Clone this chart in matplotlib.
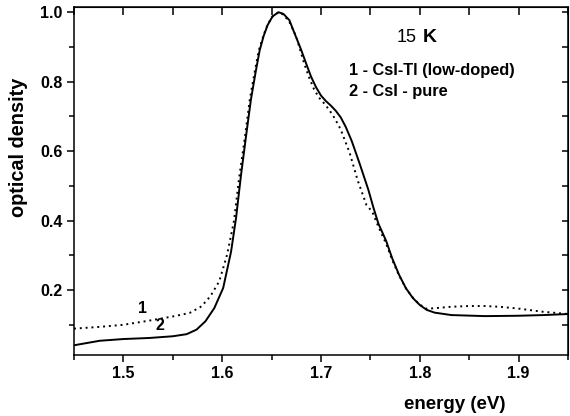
import numpy as np
from matplotlib import pyplot as plt
from matplotlib.ticker import MultipleLocator

plt.rcParams['font.family'] = ['Liberation Sans', 'DejaVu Sans']

# curve 2: CsI - pure (solid)
pureE = [1.450, 1.462, 1.476, 1.500, 1.526, 1.550, 1.564, 1.574, 1.583, 1.592,
         1.601, 1.609, 1.614, 1.619, 1.624, 1.629, 1.634, 1.638, 1.642, 1.646,
         1.651, 1.657, 1.662, 1.668, 1.672, 1.680, 1.685, 1.690, 1.695, 1.700,
         1.705, 1.710, 1.715, 1.720, 1.725, 1.731, 1.739, 1.748, 1.753, 1.758,
         1.766, 1.772, 1.779, 1.786, 1.793, 1.800, 1.807, 1.815, 1.832, 1.866,
         1.899, 1.925, 1.950]
pureOD = [0.041, 0.047, 0.054, 0.059, 0.062, 0.067, 0.073, 0.086, 0.110, 0.148,
          0.206, 0.311, 0.407, 0.530, 0.640, 0.747, 0.830, 0.891, 0.932, 0.963,
          0.988, 1.000, 0.995, 0.977, 0.948, 0.891, 0.852, 0.814, 0.784, 0.760,
          0.744, 0.731, 0.716, 0.697, 0.670, 0.630, 0.565, 0.488, 0.438, 0.392,
          0.341, 0.292, 0.244, 0.205, 0.177, 0.157, 0.143, 0.135, 0.128, 0.125,
          0.126, 0.128, 0.131]

# curve 1: CsI-Tl low-doped (dotted)
dopedE = [1.450, 1.476, 1.500, 1.526, 1.550, 1.567, 1.579, 1.588, 1.597, 1.605,
          1.612, 1.617, 1.623, 1.628, 1.633, 1.637, 1.642, 1.646, 1.651, 1.657,
          1.662, 1.668, 1.675, 1.683, 1.688, 1.693, 1.698, 1.704, 1.709, 1.714,
          1.720, 1.729, 1.737, 1.746, 1.752, 1.758, 1.766, 1.772, 1.779, 1.786,
          1.793, 1.800, 1.807, 1.820, 1.832, 1.850, 1.866, 1.880, 1.899, 1.923,
          1.950]
dopedOD = [0.089, 0.094, 0.100, 0.112, 0.124, 0.134, 0.153, 0.182, 0.225, 0.302,
           0.400, 0.520, 0.640, 0.750, 0.830, 0.890, 0.935, 0.965, 0.988, 1.000,
           0.993, 0.972, 0.929, 0.852, 0.812, 0.778, 0.754, 0.735, 0.716, 0.694,
           0.662, 0.595, 0.517, 0.445, 0.425, 0.383, 0.333, 0.287, 0.242, 0.205,
           0.178, 0.158, 0.146, 0.149, 0.152, 0.154, 0.154, 0.152, 0.147, 0.138,
           0.131]

legendLines = ['1 - CsI-Tl (low-doped)', '2 - CsI - pure']

fig = plt.figure(figsize=(5.7, 4.16), dpi=100)
ax = fig.add_axes([0.1298, 0.1466, 0.8667, 0.8366])

ax.plot(pureE, pureOD, color='black', lw=1.4)
ax.plot(dopedE, dopedOD, color='black', lw=1.4, linestyle=(0, (1, 2)))

ax.set_xlim(1.45, 1.95)
ax.set_ylim(0.013, 1.015)

ax.xaxis.set_major_locator(MultipleLocator(0.1))
ax.xaxis.set_minor_locator(MultipleLocator(0.05))
ax.yaxis.set_minor_locator(MultipleLocator(0.1))
ax.set_yticks([0.2, 0.4, 0.6, 0.8, 1.0])
ax.set_yticklabels(['0.2', '0.4', '0.6', '0.8', '1.0'])

ax.tick_params(which='major', direction='out', length=5, width=1.1,
               labelsize=11.5, pad=3)
ax.tick_params(which='minor', direction='out', length=3.5, width=1.1)
for lab in ax.get_xticklabels() + ax.get_yticklabels():
    lab.set_fontweight('bold')

for s in ax.spines.values():
    s.set_linewidth(1.1)

top = ax.secondary_xaxis('top')
top.set_xticks(np.arange(1.45, 1.951, 0.05))
top.tick_params(direction='in', length=5.5, width=1.1, labeltop=False)
right = ax.secondary_yaxis('right')
right.set_yticks(np.arange(0.1, 1.01, 0.1))
right.tick_params(direction='in', length=4.5, width=1.1, labelright=False)

ax.set_xlabel('energy (eV)', fontsize=13.5, fontweight='bold')
ax.xaxis.set_label_coords(0.771, -0.118)
ax.set_ylabel('optical density', fontsize=14.3, fontweight='bold')
ax.yaxis.set_label_coords(-0.093, 0.596)

ax.text(0.694, 0.899, '15', transform=ax.transAxes, ha='right',
        va='baseline', fontsize=13)
ax.text(0.7065, 0.899, 'K', transform=ax.transAxes, ha='left',
        va='baseline', fontsize=14, fontweight='bold')
ax.text(0.557, 0.805, legendLines[0], transform=ax.transAxes, ha='left',
        va='baseline', fontsize=11.8, fontweight='bold')
ax.text(0.557, 0.744, legendLines[1], transform=ax.transAxes, ha='left',
        va='baseline', fontsize=11.8, fontweight='bold')

ax.text(1.519, 0.148, '1', ha='center', va='center', fontsize=11.5,
        fontweight='bold')
ax.text(1.537, 0.099, '2', ha='center', va='center', fontsize=11.5,
        fontweight='bold')

plt.savefig('out.png', dpi=100)
